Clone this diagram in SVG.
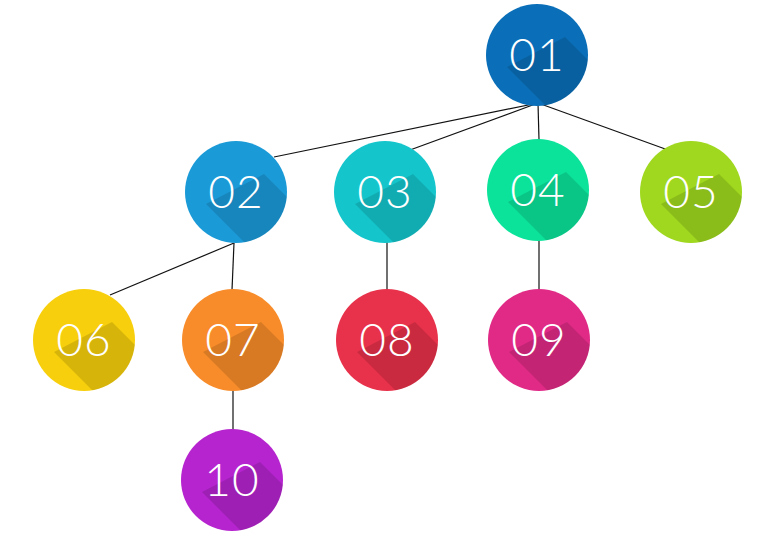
<svg xmlns="http://www.w3.org/2000/svg" width="772" height="538" viewBox="0 0 772 538">
<style>
.t{font-family:Lato,"Open Sans",sans-serif;font-weight:300;font-size:46px;fill:#fff;text-anchor:middle;letter-spacing:1px}
.sh{fill:#000;opacity:0.13}
#connectors line{stroke:#111;stroke-width:1.2}
</style>
<defs>
<clipPath id="c"><circle r="51"/></clipPath>
<path id="s" d="M-30,12 L28,-18 L90,44 L32,74 Z"/>
</defs>
<rect width="772" height="538" fill="#fff"/>
<g id="connectors">
<line x1="538" y1="103" x2="274" y2="157"/>
<line x1="538" y1="103" x2="410" y2="150"/>
<line x1="538" y1="103" x2="539" y2="140"/>
<line x1="538" y1="103" x2="668" y2="150"/>
<line x1="234" y1="243" x2="110" y2="295"/>
<line x1="234" y1="243" x2="232" y2="290"/>
<line x1="387" y1="240" x2="387" y2="290"/>
<line x1="539" y1="238" x2="539" y2="290"/>
<line x1="233" y1="390" x2="233" y2="433"/>
</g>
<g id="n01" transform="translate(537,55)"><circle r="51" fill="#0a6fb8"/><use href="#s" class="sh" clip-path="url(#c)"/><text class="t" y="16">01</text></g>
<g id="n02" transform="translate(236,192)"><circle r="51" fill="#1b9ad8"/><use href="#s" class="sh" clip-path="url(#c)"/><text class="t" y="16">02</text></g>
<g id="n03" transform="translate(385,192)"><circle r="51" fill="#14c6cc"/><use href="#s" class="sh" clip-path="url(#c)"/><text class="t" y="16">03</text></g>
<g id="n04" transform="translate(538,190)"><circle r="51" fill="#0be39a"/><use href="#s" class="sh" clip-path="url(#c)"/><text class="t" y="16">04</text></g>
<g id="n05" transform="translate(691,192)"><circle r="51" fill="#9fd81e"/><use href="#s" class="sh" clip-path="url(#c)"/><text class="t" y="16">05</text></g>
<g id="n06" transform="translate(84,340)"><circle r="51" fill="#f7cf0c"/><use href="#s" class="sh" clip-path="url(#c)"/><text class="t" y="16">06</text></g>
<g id="n07" transform="translate(233,340)"><circle r="51" fill="#f88c2a"/><use href="#s" class="sh" clip-path="url(#c)"/><text class="t" y="16">07</text></g>
<g id="n08" transform="translate(387,340)"><circle r="51" fill="#e8314a"/><use href="#s" class="sh" clip-path="url(#c)"/><text class="t" y="16">08</text></g>
<g id="n09" transform="translate(539,340)"><circle r="51" fill="#e02a86"/><use href="#s" class="sh" clip-path="url(#c)"/><text class="t" y="16">09</text></g>
<g id="n10" transform="translate(232,480)"><circle r="51" fill="#b624cf"/><use href="#s" class="sh" clip-path="url(#c)"/><text class="t" y="16">10</text></g>
</svg>
